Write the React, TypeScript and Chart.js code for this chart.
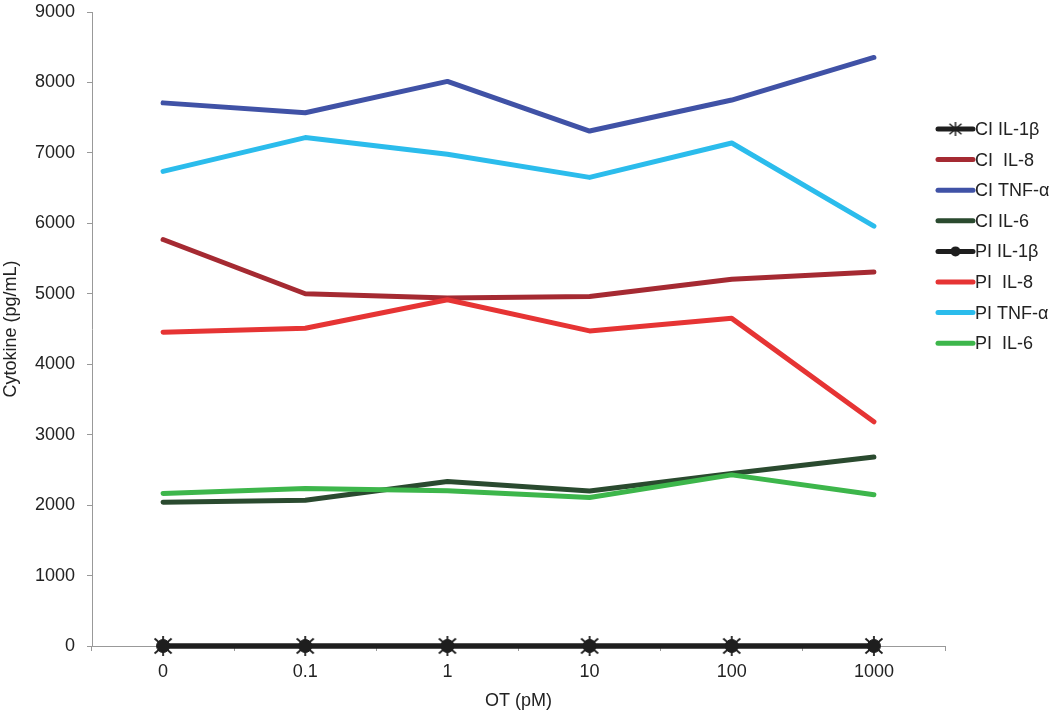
import React, { useEffect, useRef } from "react";
import { Chart, registerables } from "chart.js";

Chart.register(...registerables);

const categories = ["0", "0.1", "1", "10", "100", "1000"];
const ciIL1b = [0, 0, 0, 0, 0, 0];
const ciIL8 = [5770, 5000, 4940, 4960, 5205, 5310];
const ciTNF = [7710, 7570, 8015, 7310, 7750, 8355];
const ciIL6 = [2040, 2070, 2335, 2200, 2448, 2684];
const piIL1b = [0, 0, 0, 0, 0, 0];
const piIL8 = [4454, 4510, 4915, 4473, 4651, 3182];
const piTNF = [6737, 7217, 6980, 6652, 7140, 5960];
const piIL6 = [2165, 2236, 2203, 2109, 2429, 2147];

const seriesLabels = ["CI IL-1\u03b2", "CI  IL-8", "CI TNF-\u03b1", "CI IL-6", "PI IL-1\u03b2", "PI  IL-8", "PI TNF-\u03b1", "PI  IL-6"];
const seriesColors = ["#1e1e1e", "#a52a32", "#4052a6", "#2a4a2f", "#1e1e1e", "#e63434", "#2bbcec", "#3db64b"];

const FONT = "'Liberation Sans', Arial, sans-serif";

function makeAsterisk(size: number, color: string, lw: number): HTMLCanvasElement {
  const c = document.createElement("canvas");
  c.width = size;
  c.height = size;
  const ctx = c.getContext("2d")!;
  ctx.strokeStyle = color;
  ctx.lineWidth = lw;
  const m = size / 2;
  const r = size / 2 - 1;
  ctx.beginPath();
  ctx.moveTo(m, m - r);
  ctx.lineTo(m, m + r);
  ctx.moveTo(m - r * 0.85, m - r * 0.75);
  ctx.lineTo(m + r * 0.85, m + r * 0.75);
  ctx.moveTo(m + r * 0.85, m - r * 0.75);
  ctx.lineTo(m - r * 0.85, m + r * 0.75);
  ctx.stroke();
  return c;
}

export default function App() {
  const ref = useRef<HTMLCanvasElement | null>(null);

  useEffect(() => {
    document.body.style.margin = "0";
    const star = makeAsterisk(22, "#1e1e1e", 1.8);
    const starSmall = makeAsterisk(16, "#1e1e1e", 1.5);
    const seriesData = [ciIL1b, ciIL8, ciTNF, ciIL6, piIL1b, piIL8, piTNF, piIL6];

    const datasets = seriesData.map((d, i) => {
      const isIL1b = i === 0 || i === 4;
      return {
        label: seriesLabels[i],
        data: d,
        borderColor: seriesColors[i],
        backgroundColor: seriesColors[i],
        borderWidth: 5,
        tension: 0,
        clip: false as const,
        borderCapStyle: "round" as const,
        borderJoinStyle: "round" as const,
        pointStyle: i === 0 ? (star as any) : "circle",
        pointRadius: isIL1b ? (i === 0 ? 11 : 6.5) : 0,
        pointBorderWidth: 1,
        pointBorderColor: seriesColors[i],
        pointBackgroundColor: seriesColors[i],
        order: i < 4 ? 1 : 0,
      };
    });

    const legendPlugin = {
      id: "customLegend",
      afterDraw(chart: any) {
        const ctx = chart.ctx;
        ctx.save();
        chart.data.datasets.forEach((ds: any, i: number) => {
          const y = 129 + i * 30.6;
          const x0 = 938;
          const x1 = 973;
          ctx.strokeStyle = ds.borderColor;
          ctx.lineWidth = 5;
          ctx.lineCap = "round";
          ctx.beginPath();
          ctx.moveTo(x0, y);
          ctx.lineTo(x1, y);
          ctx.stroke();
          if (i === 0) {
            ctx.drawImage(starSmall, (x0 + x1) / 2 - 8, y - 8);
          } else if (i === 4) {
            ctx.fillStyle = ds.borderColor;
            ctx.beginPath();
            ctx.arc((x0 + x1) / 2, y, 5, 0, Math.PI * 2);
            ctx.fill();
          }
          ctx.fillStyle = "#222";
          ctx.font = `18px ${FONT}`;
          ctx.textBaseline = "middle";
          ctx.textAlign = "left";
          ctx.fillText(ds.label, 975, y + 1);
        });
        ctx.restore();
      },
    };

    const chart = new Chart(ref.current!, {
      type: "line",
      data: { labels: categories, datasets },
      options: {
        animation: false,
        responsive: false,
        layout: { padding: { top: 0, right: 105, left: 0, bottom: 0 } },
        plugins: { legend: { display: false }, tooltip: { enabled: false } },
        scales: {
          x: {
            offset: true,
            grid: {
              offset: true,
              drawOnChartArea: false,
              tickLength: 5,
              color: "#999",
            },
            border: { color: "#999", width: 1 },
            ticks: { color: "#222", font: { family: FONT, size: 18 }, padding: 10, maxRotation: 0 },
            title: { display: true, text: "OT (pM)", color: "#222", font: { family: FONT, size: 18 }, padding: { top: 4, bottom: 6 } },
            afterFit: (s: any) => {
              s.height = 72;
            },
          },
          y: {
            min: 0,
            max: 9000,
            grid: { drawOnChartArea: false, tickLength: 5, color: "#999" },
            border: { color: "#999", width: 1 },
            ticks: {
              stepSize: 1000,
              color: "#222",
              font: { family: FONT, size: 18, lineHeight: 1 },
              padding: 12,
              callback: (v: any) => String(v),
            },
            title: { display: true, text: "Cytokine (pg/mL)", color: "#222", font: { family: FONT, size: 18 }, padding: { top: 0, bottom: 0 } },
            afterFit: (s: any) => {
              s.width = 92;
              s.paddingTop = 9;
              s.paddingBottom = 9;
            },
          },
        },
      },
      plugins: [legendPlugin],
    });
    return () => chart.destroy();
  }, []);

  return (
    <div style={{ width: 1050, height: 718, background: "#fff" }}>
      <canvas ref={ref} width={1050} height={718} />
    </div>
  );
}
